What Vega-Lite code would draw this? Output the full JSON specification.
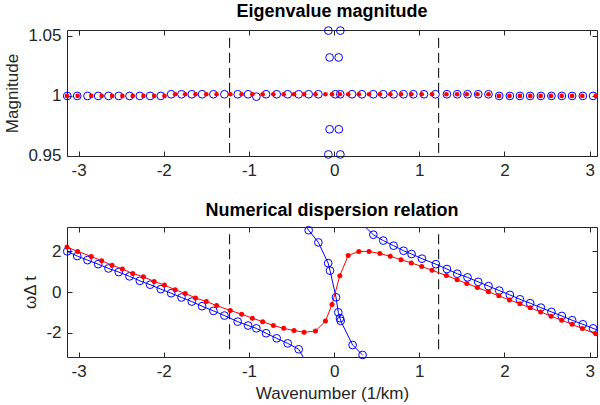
{
  "$schema": "https://vega.github.io/schema/vega-lite/v6.json",
  "background": "white",
  "padding": {"left": 3, "top": 2, "right": 0, "bottom": 0},
  "spacing": 22,
  "config": {
    "font": "Liberation Sans",
    "view": {"stroke": "#262626", "strokeWidth": 1},
    "axis": {"domain": false, "tickSize": -5, "tickColor": "#262626", "labelColor": "#262626", "titleColor": "#262626", "labelFontSize": 17, "titleFontSize": 17, "titleFontWeight": "normal", "gridColor": "#e3e3e3", "gridWidth": 1, "labelFont": "Liberation Sans", "titleFont": "Liberation Sans", "labelFlush": false, "labelOverlap": false},
    "axisX": {"labelPadding": 11, "titlePadding": 6},
    "axisY": {"labelPadding": 11, "titlePadding": 6},
    "title": {"fontSize": 18, "fontWeight": "bold", "color": "#000000", "offset": 0, "font": "Liberation Sans"}
  },
  "datasets": {
    "dashTop": [{"k": -1.227, "y0": 0.9525, "y1": 1.05}, {"k": 1.227, "y0": 0.9525, "y1": 1.05}],
    "dashBot": [{"k": -1.227, "y0": -2.82, "y1": 2.85}, {"k": 1.227, "y0": -2.82, "y1": 2.85}],
    "magBlue": [
      {"k": -3.133, "m": 1.0}, {"k": -3.016, "m": 1.0}, {"k": -2.895, "m": 1.0}, {"k": -2.770, "m": 1.0}, {"k": -2.649, "m": 1.0}, {"k": -2.528, "m": 1.0}, {"k": -2.402, "m": 1.0}, {"k": -2.281, "m": 1.0}, {"k": -2.160, "m": 1.0}, {"k": -2.035, "m": 1.0},
      {"k": -1.913, "m": 1.0014}, {"k": -1.792, "m": 1.0014}, {"k": -1.671, "m": 1.0014}, {"k": -1.550, "m": 1.0014}, {"k": -1.417, "m": 1.0014}, {"k": -1.288, "m": 1.0014}, {"k": -1.132, "m": 1.0014}, {"k": -1.010, "m": 1.0014}, {"k": -0.913, "m": 0.9994}, {"k": -0.799, "m": 1.0014}, {"k": -0.674, "m": 1.0014}, {"k": -0.545, "m": 1.0014}, {"k": -0.416, "m": 1.0014},
      {"k": -0.299, "m": 1.0014}, {"k": -0.185, "m": 1.0014}, {"k": 0.014, "m": 1.0014}, {"k": 0.072, "m": 1.0014}, {"k": 0.210, "m": 1.0014}, {"k": 0.327, "m": 1.0014},
      {"k": -0.068, "m": 1.0545}, {"k": 0.073, "m": 1.0545}, {"k": -0.053, "m": 1.0321}, {"k": 0.053, "m": 1.0321}, {"k": -0.053, "m": 0.9722}, {"k": 0.055, "m": 0.9722}, {"k": -0.068, "m": 0.9512}, {"k": 0.073, "m": 0.9512},
      {"k": 0.460, "m": 1.0014}, {"k": 0.577, "m": 1.0014}, {"k": 0.698, "m": 1.0014}, {"k": 0.815, "m": 1.0014}, {"k": 0.930, "m": 1.0014}, {"k": 1.055, "m": 1.0014}, {"k": 1.190, "m": 1.0014}, {"k": 1.324, "m": 1.0014}, {"k": 1.445, "m": 1.0014}, {"k": 1.566, "m": 1.0014}, {"k": 1.691, "m": 1.0014}, {"k": 1.812, "m": 1.0014},
      {"k": 1.938, "m": 1.0}, {"k": 2.063, "m": 1.0}, {"k": 2.181, "m": 1.0}, {"k": 2.301, "m": 1.0}, {"k": 2.427, "m": 1.0}, {"k": 2.551, "m": 1.0}, {"k": 2.673, "m": 1.0}, {"k": 2.794, "m": 1.0}, {"k": 2.920, "m": 1.0}, {"k": 3.040, "m": 1.0}
    ],
    "magRed": [
      {"k": -3.136, "m": 1.0}, {"k": -3.011, "m": 1.0}, {"k": -2.851, "m": 1.0}, {"k": -2.729, "m": 1.0}, {"k": -2.607, "m": 1.0}, {"k": -2.486, "m": 1.0}, {"k": -2.364, "m": 1.0}, {"k": -2.239, "m": 1.0}, {"k": -2.113, "m": 1.0}, {"k": -1.992, "m": 1.0},
      {"k": -1.866, "m": 1.0014}, {"k": -1.748, "m": 1.0014}, {"k": -1.627, "m": 1.0014}, {"k": -1.501, "m": 1.0014}, {"k": -1.380, "m": 1.0014}, {"k": -1.219, "m": 1.0014}, {"k": -1.086, "m": 1.0014}, {"k": -0.960, "m": 1.0014}, {"k": -0.839, "m": 1.0014}, {"k": -0.713, "m": 1.0014}, {"k": -0.592, "m": 1.0014}, {"k": -0.471, "m": 1.0014}, {"k": -0.353, "m": 1.0014}, {"k": -0.219, "m": 1.0014}, {"k": -0.102, "m": 1.0014}, {"k": -0.025, "m": 1.0014},
      {"k": 0.067, "m": 1.0014}, {"k": 0.165, "m": 1.0014}, {"k": 0.290, "m": 1.0014}, {"k": 0.410, "m": 1.0014}, {"k": 0.537, "m": 1.0014}, {"k": 0.659, "m": 1.0014}, {"k": 0.785, "m": 1.0014}, {"k": 0.906, "m": 1.0014}, {"k": 1.028, "m": 1.0014}, {"k": 1.149, "m": 1.0014}, {"k": 1.318, "m": 1.0014}, {"k": 1.444, "m": 1.0014}, {"k": 1.557, "m": 1.0014}, {"k": 1.682, "m": 1.0014}, {"k": 1.812, "m": 1.0014},
      {"k": 1.934, "m": 1.0}, {"k": 2.059, "m": 1.0}, {"k": 2.181, "m": 1.0}, {"k": 2.302, "m": 1.0}, {"k": 2.424, "m": 1.0}, {"k": 2.546, "m": 1.0}, {"k": 2.671, "m": 1.0}, {"k": 2.793, "m": 1.0}, {"k": 2.914, "m": 1.0}, {"k": 3.071, "m": 1.0}
    ],
    "dispBlue": [
      {"b": "L", "k": -3.133, "w": 2.00}, {"b": "L", "k": -3.016, "w": 1.77}, {"b": "L", "k": -2.895, "w": 1.57}, {"b": "L", "k": -2.770, "w": 1.37}, {"b": "L", "k": -2.649, "w": 1.16}, {"b": "L", "k": -2.528, "w": 0.98}, {"b": "L", "k": -2.402, "w": 0.77}, {"b": "L", "k": -2.281, "w": 0.55}, {"b": "L", "k": -2.160, "w": 0.36}, {"b": "L", "k": -2.035, "w": 0.14}, {"b": "L", "k": -1.913, "w": -0.06}, {"b": "L", "k": -1.792, "w": -0.27}, {"b": "L", "k": -1.671, "w": -0.47}, {"b": "L", "k": -1.550, "w": -0.70}, {"b": "L", "k": -1.417, "w": -0.93}, {"b": "L", "k": -1.288, "w": -1.16}, {"b": "L", "k": -1.132, "w": -1.46}, {"b": "L", "k": -1.010, "w": -1.65}, {"b": "L", "k": -0.913, "w": -1.79}, {"b": "L", "k": -0.799, "w": -2.03}, {"b": "L", "k": -0.674, "w": -2.28}, {"b": "L", "k": -0.545, "w": -2.53}, {"b": "L", "k": -0.416, "w": -2.82}, {"b": "L", "k": -0.33, "w": -3.45, "extra": true},
      {"b": "M", "k": -0.37, "w": 3.42, "extra": true}, {"b": "M", "k": -0.299, "w": 3.04}, {"b": "M", "k": -0.185, "w": 2.44}, {"b": "M", "k": -0.070, "w": 1.42}, {"b": "M", "k": -0.048, "w": 1.05}, {"b": "M", "k": 0.022, "w": -0.26}, {"b": "M", "k": 0.049, "w": -1.00}, {"b": "M", "k": 0.069, "w": -1.29}, {"b": "M", "k": 0.077, "w": -1.42}, {"b": "M", "k": 0.217, "w": -2.61}, {"b": "M", "k": 0.334, "w": -3.10},
      {"b": "R", "k": 0.33, "w": 3.35, "extra": true}, {"b": "R", "k": 0.460, "w": 2.82}, {"b": "R", "k": 0.577, "w": 2.53}, {"b": "R", "k": 0.698, "w": 2.28}, {"b": "R", "k": 0.815, "w": 2.03}, {"b": "R", "k": 0.909, "w": 1.87}, {"b": "R", "k": 1.031, "w": 1.64}, {"b": "R", "k": 1.195, "w": 1.37}, {"b": "R", "k": 1.324, "w": 1.13}, {"b": "R", "k": 1.445, "w": 0.90}, {"b": "R", "k": 1.566, "w": 0.72}, {"b": "R", "k": 1.691, "w": 0.50}, {"b": "R", "k": 1.812, "w": 0.29}, {"b": "R", "k": 1.938, "w": 0.07}, {"b": "R", "k": 2.063, "w": -0.14}, {"b": "R", "k": 2.181, "w": -0.36}, {"b": "R", "k": 2.301, "w": -0.55}, {"b": "R", "k": 2.427, "w": -0.77}, {"b": "R", "k": 2.551, "w": -0.98}, {"b": "R", "k": 2.673, "w": -1.18}, {"b": "R", "k": 2.794, "w": -1.39}, {"b": "R", "k": 2.920, "w": -1.59}, {"b": "R", "k": 3.040, "w": -1.79}, {"b": "R", "k": 3.16, "w": -1.99, "extra": true}
    ],
    "dispRed": [
      {"k": -3.136, "w": 2.21}, {"k": -3.011, "w": 2.00}, {"k": -2.851, "w": 1.75}, {"k": -2.729, "w": 1.54}, {"k": -2.607, "w": 1.32}, {"k": -2.486, "w": 1.13}, {"k": -2.364, "w": 0.91}, {"k": -2.239, "w": 0.75}, {"k": -2.113, "w": 0.52}, {"k": -1.992, "w": 0.34}, {"k": -1.866, "w": 0.11}, {"k": -1.748, "w": -0.07}, {"k": -1.627, "w": -0.29}, {"k": -1.501, "w": -0.47}, {"k": -1.380, "w": -0.67}, {"k": -1.219, "w": -0.91}, {"k": -1.086, "w": -1.09}, {"k": -0.960, "w": -1.29}, {"k": -0.839, "w": -1.46}, {"k": -0.713, "w": -1.65}, {"k": -0.592, "w": -1.79}, {"k": -0.471, "w": -1.90}, {"k": -0.353, "w": -1.98}, {"k": -0.219, "w": -1.92}, {"k": -0.102, "w": -1.43}, {"k": -0.025, "w": -0.62},
      {"k": 0.067, "w": 0.80}, {"k": 0.165, "w": 1.80}, {"k": 0.290, "w": 2.00}, {"k": 0.410, "w": 2.00}, {"k": 0.537, "w": 1.89}, {"k": 0.659, "w": 1.76}, {"k": 0.785, "w": 1.59}, {"k": 0.906, "w": 1.43}, {"k": 1.028, "w": 1.26}, {"k": 1.149, "w": 1.07}, {"k": 1.318, "w": 0.81}, {"k": 1.444, "w": 0.60}, {"k": 1.557, "w": 0.42}, {"k": 1.682, "w": 0.22}, {"k": 1.812, "w": 0.01}, {"k": 1.934, "w": -0.19}, {"k": 2.059, "w": -0.39}, {"k": 2.181, "w": -0.58}, {"k": 2.302, "w": -0.78}, {"k": 2.424, "w": -0.98}, {"k": 2.546, "w": -1.19}, {"k": 2.671, "w": -1.39}, {"k": 2.793, "w": -1.59}, {"k": 2.914, "w": -1.80}, {"k": 3.071, "w": -2.06}, {"k": 3.2, "w": -2.27, "extra": true}
    ]
  },
  "vconcat": [
    {
      "width": 530,
      "height": 126,
      "title": {"text": "Eigenvalue magnitude"},
      "resolve": {"axis": {"x": "independent", "y": "independent"}},
      "layer": [
        {
          "data": {"name": "dashTop"},
          "mark": {"type": "rule", "color": "#000000", "strokeWidth": 1, "strokeDash": [10, 5]},
          "encoding": {
            "x": {"field": "k", "type": "quantitative", "scale": {"domain": [-3.136, 3.086], "nice": false, "zero": false}, "axis": {"orient": "top", "labels": false, "grid": false, "title": null, "values": [-3, -2, -1, 0, 1, 2, 3]}},
            "y": {"field": "y0", "type": "quantitative", "scale": {"domain": [0.9499, 1.055], "nice": false, "zero": false}, "axis": {"orient": "right", "labels": false, "grid": false, "title": null, "values": [0.95, 1, 1.05]}},
            "y2": {"field": "y1"}
          }
        },
        {
          "data": {"name": "magBlue"},
          "mark": {"type": "point", "shape": "circle", "filled": false, "color": "#0000ff", "size": 60, "strokeWidth": 1, "opacity": 1},
          "encoding": {
            "x": {"field": "k", "type": "quantitative", "axis": {"values": [-3, -2, -1, 0, 1, 2, 3], "labelExpr": "toString(datum.value)", "title": null}},
            "y": {"field": "m", "type": "quantitative", "axis": {"values": [0.95, 1, 1.05], "labelExpr": "toString(datum.value)", "title": "Magnitude"}}
          }
        },
        {
          "data": {"name": "magRed"},
          "mark": {"type": "circle", "color": "#ff0000", "size": 22, "opacity": 1},
          "encoding": {
            "x": {"field": "k", "type": "quantitative", "axis": null},
            "y": {"field": "m", "type": "quantitative", "axis": null}
          }
        }
      ]
    },
    {
      "width": 530,
      "height": 130,
      "title": {"text": "Numerical dispersion relation"},
      "resolve": {"axis": {"x": "independent", "y": "independent"}},
      "layer": [
        {
          "data": {"name": "dashBot"},
          "mark": {"type": "rule", "color": "#000000", "strokeWidth": 1, "strokeDash": [10, 5]},
          "encoding": {
            "x": {"field": "k", "type": "quantitative", "scale": {"domain": [-3.136, 3.086], "nice": false, "zero": false}, "axis": {"orient": "top", "labels": false, "grid": false, "title": null, "values": [-3, -2, -1, 0, 1, 2, 3]}},
            "y": {"field": "y0", "type": "quantitative", "scale": {"domain": [-3.2, 3.2], "nice": false, "zero": false}, "axis": {"orient": "right", "labels": false, "grid": false, "title": null, "values": [-2, 0, 2]}},
            "y2": {"field": "y1"}
          }
        },
        {
          "data": {"name": "dispBlue"},
          "mark": {"type": "line", "color": "#0000ff", "strokeWidth": 1, "clip": true},
          "encoding": {
            "x": {"field": "k", "type": "quantitative", "axis": {"values": [-3, -2, -1, 0, 1, 2, 3], "labelExpr": "toString(datum.value)", "title": "Wavenumber (1/km)"}},
            "y": {"field": "w", "type": "quantitative", "axis": {"values": [-2, 0, 2], "labelExpr": "toString(datum.value)", "title": "ωΔ t"}},
            "detail": {"field": "b"}
          }
        },
        {
          "data": {"name": "dispBlue"},
          "transform": [{"filter": "!datum.extra"}],
          "mark": {"type": "point", "shape": "circle", "filled": false, "color": "#0000ff", "size": 60, "strokeWidth": 1, "opacity": 1},
          "encoding": {
            "x": {"field": "k", "type": "quantitative", "axis": null},
            "y": {"field": "w", "type": "quantitative", "axis": null}
          }
        },
        {
          "data": {"name": "dispRed"},
          "mark": {"type": "line", "color": "#ff0000", "strokeWidth": 1, "clip": true},
          "encoding": {
            "x": {"field": "k", "type": "quantitative", "axis": null},
            "y": {"field": "w", "type": "quantitative", "axis": null}
          }
        },
        {
          "data": {"name": "dispRed"},
          "transform": [{"filter": "!datum.extra"}],
          "mark": {"type": "circle", "color": "#ff0000", "size": 25, "opacity": 1},
          "encoding": {
            "x": {"field": "k", "type": "quantitative", "axis": null},
            "y": {"field": "w", "type": "quantitative", "axis": null}
          }
        }
      ]
    }
  ]
}
